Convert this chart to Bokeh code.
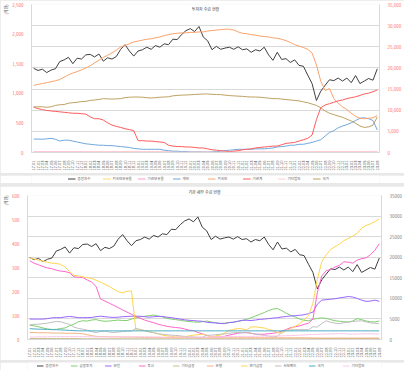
import math
from bokeh.plotting import figure
from bokeh.models import (Range1d, LinearAxis, Legend, LegendItem, SingleIntervalTicker,
                          NumeralTickFormatter, Label, Title)
from bokeh.layouts import column
from bokeh.embed import file_html
from bokeh.resources import INLINE

FONT = "Noto Sans CJK KR"

months = [
    "17.01", "17.02", "17.03", "17.04", "17.05", "17.06", "17.07", "17.08", "17.09", "17.10", "17.11", "17.12",
    "18.01", "18.02", "18.03", "18.04", "18.05", "18.06", "18.07", "18.08", "18.09", "18.10", "18.11", "18.12",
    "19.01", "19.02", "19.03", "19.04", "19.05", "19.06", "19.07", "19.08", "19.09", "19.10", "19.11", "19.12",
    "20.01", "20.02", "20.03", "20.04", "20.05", "20.06", "20.07", "20.08", "20.09", "20.10", "20.11", "20.12",
    "21.01", "21.02", "21.03", "21.04", "21.05", "21.06", "21.07", "21.08", "21.09", "21.10", "21.11", "21.12",
    "22.01", "22.02", "22.03", "22.04", "22.05", "22.06", "22.07", "22.08", "22.09", "22.10", "22.11", "22.12",
    "23.01", "23.02", "23.03", "23.04", "23.05", "23.06", "23.07", "23.08",
]

# price line (right axis, both charts)
price = [
    19900, 19400, 19700, 18900, 19500, 19800, 21500, 21900, 22500, 21000,
    22300, 22100, 23100, 23200, 22600, 23300, 21600, 22400, 22100, 22700,
    24400, 25500, 24000, 22800, 24000, 24300, 24900, 24400, 25300, 24900,
    25700, 25500, 26800, 26700, 27900, 28800, 29300, 28600, 29800, 27300,
    26400, 24300, 25100, 24400, 24700, 24900, 24400, 25000, 24300, 24500,
    23700, 24300, 24000, 24900, 23100, 21800, 23700, 22000, 22200, 21300,
    21900, 20600, 20400, 18300, 16300, 12300, 14500, 15900, 17200, 17000,
    17600, 16900, 17600, 16500, 18200, 16300, 16900, 17500, 17100, 19800,
]

# ---- top chart (left axis) ----
top_foreign_ratio = [
    3, 3, 3, 3, 3, 3, 3, 3, 3, 3, 3, 3, 3, 3, 3, 3, 3, 3, 3, 3,
    3, 3, 3, 3, 3, 3, 3, 3, 3, 3, 3, 3, 3, 3, 3, 3, 3, 3, 3, 3,
    3, 3, 3, 3, 3, 3, 3, 3, 3, 3, 3, 3, 3, 3, 3, 3, 3, 3, 3, 3,
    3, 3, 3, 3, 3, 3, 3, 3, 3, 3, 3, 3, 3, 3, 3, 3, 3, 3, 3, 3,
]
top_inst_ratio = [
    9, 9, 9, 9, 9, 9, 9, 9, 9, 9, 9, 9, 8, 8, 8, 8, 8, 8, 8, 8,
    8, 8, 8, 8, 8, 8, 8, 8, 8, 8, 7, 7, 7, 7, 7, 7, 7, 7, 7, 7,
    7, 7, 7, 7, 7, 7, 7, 7, 7, 7, 7, 7, 7, 7, 7, 7, 7, 7, 7, 7,
    7, 7, 7, 7, 7, 8, 8, 8, 8, 8, 8, 8, 8, 8, 8, 8, 8, 8, 8, 8,
]
top_individual = [
    227, 227, 224, 231, 239, 224, 193, 208, 208, 193,
    177, 162, 147, 139, 131, 123, 123, 116, 116, 108,
    100, 93, 85, 69, 62, 54, 54, 54, 54, 54,
    39, 31, 23, 23, 15, 15, 8, 8, 8, 5,
    5, 8, 15, 23, 31, 39, 46, 54, 54, 54,
    54, 62, 62, 62, 69, 77, 93, 100, 108, 123,
    123, 139, 139, 154, 170, 193, 216, 278, 339, 370,
    417, 447, 471, 501, 540, 579, 586, 571, 540, 380,
]
top_foreign = [
    1134, 1150, 1165, 1180, 1196, 1211, 1234, 1273, 1312, 1342,
    1366, 1396, 1427, 1466, 1512, 1558, 1605, 1643, 1682, 1728,
    1782, 1805, 1836, 1867, 1882, 1898, 1913, 1921, 1936, 1952,
    1975, 1990, 2006, 2014, 2021, 2021, 2029, 2029, 2037, 2037,
    2052, 2060, 2068, 2075, 2083, 2083, 2068, 2037, 2014, 2006,
    1990, 1983, 1967, 1959, 1952, 1936, 1929, 1913, 1890, 1859,
    1821, 1797, 1774, 1743, 1682, 1481, 1204, 1049, 1080, 911,
    833, 772, 725, 664, 610, 579, 571, 579, 586, 625,
]
top_institution = [
    764, 741, 725, 710, 702, 694, 687, 679, 671, 663,
    663, 656, 648, 602, 571, 571, 548, 501, 463, 440,
    424, 401, 386, 370, 200, 200, 193, 193, 185, 177,
    170, 123, 108, 100, 100, 93, 93, 85, 77, 77,
    62, 46, 39, 31, 23, 15, 23, 31, 46, 54,
    62, 77, 85, 93, 100, 108, 108, 131, 154, 162,
    170, 193, 216, 239, 293, 555, 756, 802, 825, 849,
    872, 887, 910, 926, 941, 964, 988, 1003, 1026, 1057,
]
top_corp = [
    4, 4, 4, 4, 4, 4, 4, 4, 4, 4, 4, 4, 4, 4, 4, 4, 4, 4, 4, 4,
    4, 4, 4, 4, 4, 4, 4, 4, 4, 4, 4, 4, 4, 4, 4, 4, 4, 4, 4, 4,
    4, 4, 4, 4, 4, 4, 4, 4, 4, 4, 4, 4, 4, 4, 4, 4, 4, 4, 4, 4,
    4, 4, 4, 4, 5, 5, 5, 5, 5, 5, 5, 5, 5, 5, 5, 5, 5, 5, 5, 5,
]
top_nation = [
    772, 772, 772, 764, 772, 795, 807, 810, 833, 841,
    849, 860, 864, 880, 887, 895, 910, 906, 903, 906,
    910, 926, 934, 937, 937, 934, 926, 921, 926, 934,
    937, 941, 957, 964, 969, 972, 975, 980, 984, 988,
    988, 983, 980, 977, 969, 961, 957, 952, 949, 941,
    937, 937, 934, 926, 918, 910, 910, 903, 895, 887,
    880, 872, 856, 841, 818, 795, 756, 702, 663, 640,
    617, 594, 563, 532, 494, 447, 424, 432, 463, 600,
]

# ---- bottom chart (left axis) ----
b_fininv = [
    59, 57, 53, 48, 44, 42, 42, 46, 48, 57,
    64, 74, 78, 77, 81, 83, 78, 76, 77, 79,
    81, 79, 79, 85, 90, 94, 97, 99, 102, 98,
    94, 88, 85, 83, 80, 77, 75, 73, 72, 74,
    77, 73, 70, 67, 68, 71, 72, 75, 79, 84,
    90, 98, 105, 112, 121, 127, 129, 120, 109, 101,
    94, 85, 80, 78, 84, 88, 90, 88, 83, 78,
    76, 74, 73, 77, 87, 83, 77, 74, 73, 77,
]
b_insur = [
    85, 85, 85, 85, 87, 90, 91, 91, 94, 96,
    94, 91, 91, 91, 92, 95, 97, 95, 93, 92,
    93, 95, 96, 97, 97, 97, 95, 93, 95, 96,
    96, 93, 91, 88, 85, 82, 80, 79, 77, 76,
    72, 70, 69, 67, 66, 70, 72, 76, 80, 80,
    79, 81, 84, 85, 87, 89, 91, 94, 96, 98,
    99, 101, 103, 108, 114, 147, 164, 166, 168, 170,
    173, 176, 179, 177, 171, 164, 159, 160, 164, 159,
]
b_trust = [
    328, 318, 311, 304, 298, 295, 289, 285, 283, 278,
    261, 259, 258, 248, 239, 221, 169, 160, 151, 142,
    133, 123, 114, 105, 96, 88, 81, 75, 70, 64,
    59, 55, 52, 50, 48, 44, 39, 37, 29, 24,
    17, 11, 11, 11, 13, 18, 22, 26, 28, 29,
    26, 22, 22, 22, 24, 26, 29, 35, 42, 50,
    53, 57, 63, 68, 85, 195, 265, 287, 291, 302,
    309, 324, 322, 318, 331, 337, 340, 353, 372, 399,
]
b_otherfin = [
    4, 4, 4, 4, 4, 4, 4, 4, 4, 4, 4, 4, 3, 3, 3, 3, 3, 3, 3, 3,
    3, 3, 3, 3, 3, 3, 3, 3, 3, 3, 3, 3, 3, 3, 3, 3, 3, 3, 3, 3,
    3, 3, 3, 3, 3, 3, 3, 3, 3, 3, 3, 3, 3, 3, 3, 3, 3, 3, 3, 3,
    3, 3, 3, 3, 4, 4, 4, 4, 4, 4, 4, 4, 4, 4, 4, 4, 4, 4, 4, 4,
]
b_bank = [
    29, 29, 28, 28, 28, 27, 27, 27, 26, 26,
    26, 25, 24, 20, 16, 13, 12, 12, 11, 11,
    11, 10, 10, 10, 10, 9, 9, 9, 9, 9,
    8, 8, 8, 8, 8, 8, 8, 8, 7, 7,
    7, 7, 7, 7, 7, 7, 7, 7, 7, 7,
    7, 7, 7, 7, 7, 7, 7, 7, 7, 7,
    7, 7, 7, 7, 6, 6, 6, 6, 6, 6,
    6, 6, 6, 6, 6, 6, 6, 6, 6, 6,
]
b_pension = [
    340, 335, 331, 326, 322, 318, 317, 313, 302, 283,
    267, 265, 261, 258, 254, 247, 239, 230, 221, 210,
    199, 195, 201, 202, 40, 39, 37, 33, 29, 24,
    18, 15, 13, 11, 11, 11, 15, 18, 20, 22,
    17, 11, 15, 18, 26, 37, 42, 46, 44, 40,
    52, 53, 50, 48, 42, 37, 29, 26, 37, 46,
    55, 66, 81, 99, 151, 250, 324, 353, 375, 387,
    398, 412, 421, 431, 442, 464, 475, 482, 491, 502,
]
b_private = [
    61, 63, 64, 66, 68, 72, 75, 74, 68, 63,
    52, 46, 43, 39, 33, 29, 33, 35, 31, 29,
    31, 33, 35, 35, 46, 42, 37, 31, 28, 24,
    22, 20, 18, 17, 15, 13, 11, 11, 9, 9,
    17, 18, 20, 22, 23, 26, 28, 29, 29, 28,
    26, 23, 20, 17, 14, 11, 13, 33, 39, 40,
    41, 41, 41, 41, 53, 52, 66, 78, 72, 68,
    66, 70, 72, 75, 77, 78, 74, 69, 68, 66,
]
b_nation = [
    45, 44, 43, 43, 42, 41, 41, 40, 39, 38,
    37, 36, 36, 36, 36, 36, 36, 36, 36, 36,
    36, 36, 36, 36, 36, 36, 36, 36, 36, 36,
    36, 36, 36, 36, 36, 36, 36, 36, 36, 36,
    36, 36, 36, 36, 36, 36, 36, 36, 36, 36,
    36, 36, 36, 36, 36, 36, 36, 36, 36, 36,
    36, 36, 36, 36, 36, 36, 36, 36, 36, 36,
    36, 36, 36, 36, 36, 36, 36, 36, 36, 36,
]
b_corp = [
    10, 10, 11, 11, 11, 12, 12, 12, 12, 12,
    12, 12, 12, 12, 11, 11, 11, 11, 11, 11,
    11, 11, 11, 11, 11, 11, 11, 11, 10, 10,
    10, 10, 10, 10, 10, 10, 10, 10, 10, 10,
    10, 11, 11, 11, 12, 12, 12, 13, 13, 13,
    13, 13, 14, 14, 14, 15, 15, 15, 16, 16,
    17, 18, 19, 20, 21, 22, 22, 23, 23, 24,
    25, 24, 23, 22, 23, 23, 24, 24, 23, 23,
]

top_names = ["종합지수", "외국인보유율", "기관보유율", "개인", "외국인", "기관계", "기타법인", "국가"]
top_colors = ["#404040", "#ffd966", "#ff99cc", "#6fa8dc", "#f9a36b", "#ff5b5b", "#ffd0d0", "#bfa162"]
top_series = [top_foreign_ratio, top_inst_ratio, top_individual, top_foreign,
              top_institution, top_corp, top_nation]

bot_names = ["종합지수", "금융투자", "보험", "투신", "기타금융", "은행", "연기금등", "사모펀드", "국가", "기타법인"]
bot_colors = ["#404040", "#7fcf6f", "#9966ff", "#ff66cc", "#c8c08a", "#f4b183", "#ffd54f", "#bfbfbf", "#4bacc6", "#ffc7ec"]
bot_series = [b_fininv, b_insur, b_trust, b_otherfin, b_bank, b_pension, b_private, b_nation, b_corp]


def make_fig(height, top_border, left_max, left_interval, left_fmt, right_fmt, right_color,
             names, colors, series, title, title_inside):
    p = figure(width=404, height=height, x_range=months, y_range=Range1d(0, 35000),
               y_axis_location="right", output_backend="svg", toolbar_location=None,
               min_border_left=0, min_border_right=0, min_border_top=top_border, min_border_bottom=1,
               background_fill_color="white", border_fill_color="white")
    p.outline_line_color = None
    p.extra_y_ranges = {"l": Range1d(0, left_max)}

    right = p.yaxis[0]
    right.ticker = SingleIntervalTicker(interval=5000, num_minor_ticks=0)
    right.formatter = NumeralTickFormatter(format=right_fmt)
    right.major_label_text_color = right_color

    left = LinearAxis(y_range_name="l",
                      ticker=SingleIntervalTicker(interval=left_interval, num_minor_ticks=0),
                      formatter=NumeralTickFormatter(format=left_fmt))
    left.major_label_text_color = "#ff6f6f"
    p.add_layout(left, "left")

    for ax in [left, right]:
        ax.major_tick_line_color = None
        ax.minor_tick_line_color = None
        ax.axis_line_color = "#d9d9d9"
        ax.major_label_text_font = FONT
        ax.major_label_text_font_size = "4.5px"
        ax.major_label_standoff = 2

    xa = p.xaxis[0]
    xa.major_label_orientation = math.pi / 2
    xa.major_label_text_font = FONT
    xa.major_label_text_font_size = "4px"
    xa.major_label_text_color = "#595959"
    xa.major_tick_line_color = None
    xa.axis_line_color = "#d9d9d9"
    xa.major_label_standoff = 2

    p.xgrid.visible = False
    p.ygrid.ticker = right.ticker
    p.ygrid.grid_line_color = "#d9d9d9"

    p.line(months, price, line_color=colors[0], line_width=1)
    for col, s in zip(colors[1:], series):
        p.line(months, s, line_color=col, line_width=1, y_range_name="l")

    p.add_layout(Title(text="(억원)", align="right", text_font=FONT, text_font_size="4px",
                       text_font_style="normal", text_color="#595959", standoff=1), "left")

    if title_inside:
        p.add_layout(Label(x=len(months) / 2, y=34600, text=title, text_align="center",
                           text_baseline="top", text_font=FONT, text_font_size="4px",
                           text_color="#404040"))
    else:
        p.title.text = title
        p.title.align = "center"
        p.title.text_font = FONT
        p.title.text_font_size = "4px"
        p.title.text_font_style = "normal"
        p.title.text_color = "#404040"
        p.title.standoff = 1
    return p


def make_legend(names, colors, series, glyph_w):
    q = figure(width=404, height=10, x_range=months, y_range=Range1d(-2, -1),
               output_backend="svg", toolbar_location=None,
               min_border_left=0, min_border_right=0, min_border_top=0, min_border_bottom=0,
               background_fill_color="white", border_fill_color="white")
    q.axis.visible = False
    q.grid.visible = False
    q.outline_line_color = None
    items = []
    r0 = q.line(months, price, line_color=colors[0], line_width=1)
    items.append(LegendItem(label=names[0], renderers=[r0]))
    for nm, col, s in zip(names[1:], colors[1:], series):
        r = q.line(months, s, line_color=col, line_width=1)
        items.append(LegendItem(label=nm, renderers=[r]))
    leg = Legend(items=items, orientation="horizontal", location="center",
                 label_text_font=FONT, label_text_font_size="3.5px", label_text_color="#595959",
                 glyph_width=glyph_w, glyph_height=4, label_height=4, label_standoff=2,
                 spacing=5, padding=0, margin=0, border_line_color=None,
                 background_fill_alpha=0)
    q.add_layout(leg, "center")
    return q


p1 = make_fig(173, 4, 2500, 500, "0,0", "0,0", "#ff6f6f", top_names, top_colors, top_series,
              "투자자 수급 현황", True)
l1 = make_legend(top_names, top_colors, top_series, 8)
p2 = make_fig(174, 1, 600, 100, "0", "0", "#808080", bot_names, bot_colors, bot_series,
              "기관 세부 수급 현황", False)
l2 = make_legend(bot_names, bot_colors, bot_series, 7)

layout = column(column(p1, l1, spacing=0), column(p2, l2, spacing=0), spacing=3,
                styles={"background-color": "#e8e8e8"})

open("out.html", "w").write(file_html(layout, INLINE))
